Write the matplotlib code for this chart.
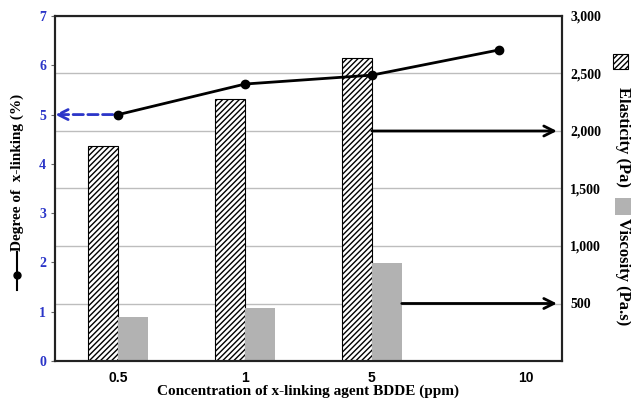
import matplotlib.pyplot as plt
import numpy as np
from matplotlib.patches import Rectangle
from matplotlib.lines import Line2D
from matplotlib.ticker import FuncFormatter
from matplotlib.transforms import ScaledTranslation

# === DATA ===
concentrations = ["0.5", "1", "5", "10"]
x_linking = [5.0, 5.62, 5.80, 6.31]          # Degree of x-linking (%)
elasticity = [1870, 2280, 2635]               # Pa (0.5, 1, 5 ppm)
viscosity = [385, 460, 850]                   # Pa.s (0.5, 1, 5 ppm)

plt.rcParams['hatch.linewidth'] = 1.0
serif = 'Liberation Serif'
blue = '#2b35c8'

fig = plt.figure(figsize=(6.31, 4.00), dpi=100)
ax = fig.add_axes([0.0872, 0.0975, 0.8034, 0.8625])
ax2 = ax.twinx()

x = np.arange(len(concentrations))
w = 0.236

# === BARS (right axis) ===
ax2.bar(x[:3] - w / 2, elasticity, width=w, facecolor='white', edgecolor='black',
        hatch='//////', linewidth=0.8, zorder=2)
ax2.bar(x[:3] + w / 2, viscosity, width=w, color='#b2b2b2', linewidth=0, zorder=2)
ax2.set_ylim(0, 3000)
ax2.set_yticks([500, 1000, 1500, 2000, 2500, 3000])
ax2.yaxis.set_major_formatter(FuncFormatter(lambda v, p: f"{int(v):,}"))
ax2.tick_params(axis='y', length=0, pad=6)
for lab in ax2.get_yticklabels():
    lab.set_fontfamily(serif)
    lab.set_fontweight('bold')
    lab.set_fontsize(10)
ax2.grid(axis='y', color='#bdbdbd', linewidth=1.0, zorder=0)
ax2.set_axisbelow(True)

# === LINE (left axis) ===
ax.set_zorder(ax2.get_zorder() + 1)
ax.patch.set_visible(False)
ax.plot(x, x_linking, '-o', color='black', lw=2, ms=6, zorder=5)
ax.set_ylim(0, 7)
ax.set_xlim(-0.5, 3.5)
ax.set_yticks(range(8))
ax.tick_params(axis='y', length=3, colors='#666666', labelcolor=blue, labelsize=10)
for lab in ax.get_yticklabels():
    lab.set_fontfamily(serif)
    lab.set_fontweight('bold')
ax.set_xticks(x)
ax.set_xticklabels(concentrations, fontsize=10, fontweight='bold', family='Liberation Sans')
ax.tick_params(axis='x', length=0, pad=7)
# the "10" label sits a bit right of its point in the original
last = ax.get_xticklabels()[-1]
last.set_transform(last.get_transform() + ScaledTranslation(0.27, 0, fig.dpi_scale_trans))
ax.set_xlabel('Concentration of x-linking agent BDDE (ppm)', family=serif,
              fontweight='bold', fontsize=11, labelpad=0)

for a in (ax, ax2):
    for s in a.spines.values():
        s.set_linewidth(1.5)
        s.set_color('#222222')

# === ARROWS ===
ax.annotate('', xy=(-0.5, x_linking[0]), xytext=(0, x_linking[0]),
            arrowprops=dict(arrowstyle='->', color=blue, lw=2, linestyle='--',
                            mutation_scale=18, shrinkA=4, shrinkB=0))
ax2.annotate('', xy=(3.46, 2000), xytext=(2.0, 2000),
             arrowprops=dict(arrowstyle='->', color='black', lw=2,
                             mutation_scale=18, shrinkA=0, shrinkB=0))
ax2.annotate('', xy=(3.46, 500), xytext=(2.0 + w, 500),
             arrowprops=dict(arrowstyle='->', color='black', lw=2,
                             mutation_scale=18, shrinkA=0, shrinkB=0))

# === LEFT AXIS LABEL WITH LINE SYMBOL ===
fig.text(0.027, 0.57, 'Degree of  x-linking (%)', rotation=90, ha='center', va='center',
         family=serif, fontweight='bold', fontsize=11)
fig.add_artist(Line2D([0.027, 0.027], [0.275, 0.37], color='black', lw=1.5,
                      transform=fig.transFigure))
fig.add_artist(Line2D([0.027], [0.312], marker='o', color='black', ms=5,
                      transform=fig.transFigure))

# === RIGHT LEGEND ===
fig.add_artist(Rectangle((0.972, 0.828), 0.024, 0.038, facecolor='white',
                         edgecolor='black', hatch='//////', lw=0.8,
                         transform=fig.transFigure))
fig.text(0.988, 0.657, 'Elasticity (Pa)', rotation=-90, ha='center', va='center',
         family=serif, fontweight='bold', fontsize=12)
fig.add_artist(Rectangle((0.975, 0.4625), 0.025, 0.0425, facecolor='#b2b2b2',
                         edgecolor='none', transform=fig.transFigure))
fig.text(0.988, 0.32, 'Viscosity (Pa.s)', rotation=-90, ha='center', va='center',
         family=serif, fontweight='bold', fontsize=12)

fig.savefig('out.png', dpi=100, facecolor='white')
